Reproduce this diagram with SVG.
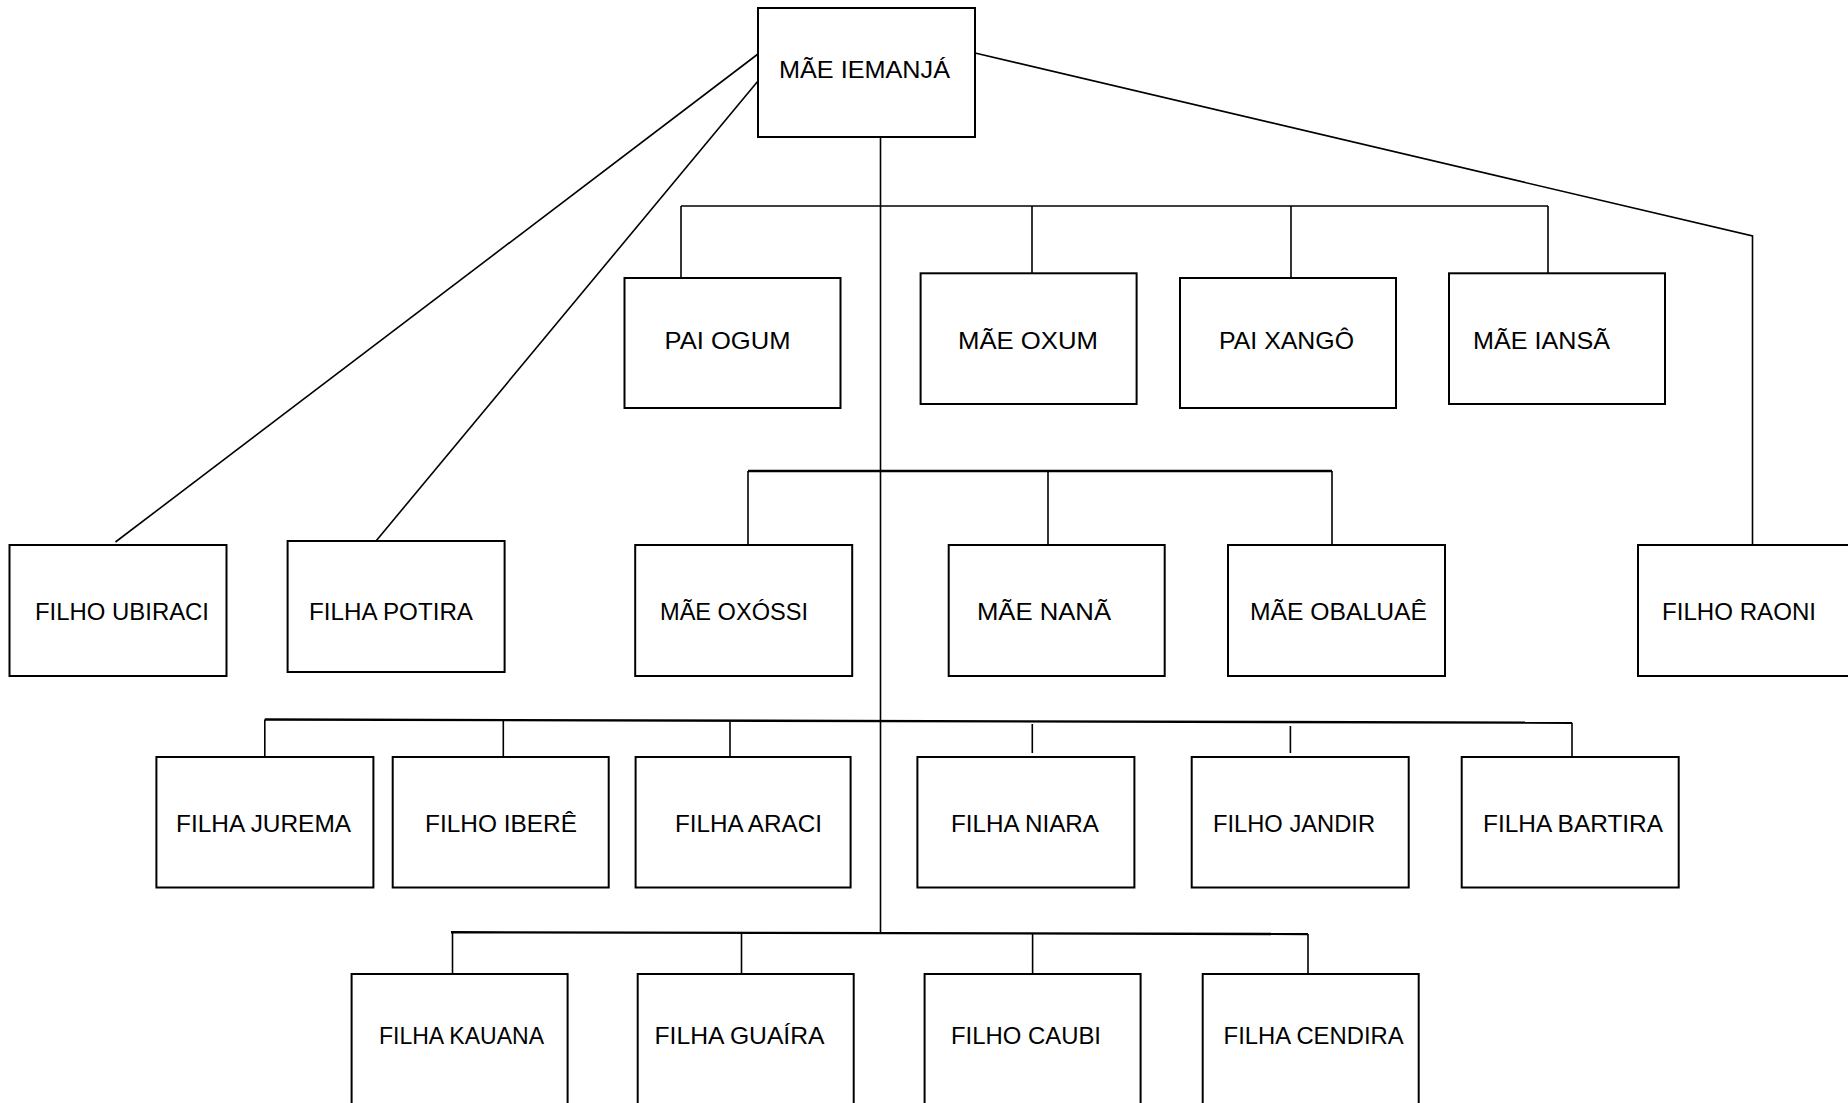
<svg xmlns="http://www.w3.org/2000/svg" width="1848" height="1103" viewBox="0 0 1848 1103">
<style>
.box{fill:#fff;stroke:#000;stroke-width:2}
.lbl{font-family:"Liberation Sans",Arial,sans-serif;font-size:24px;fill:#000}
.ln{fill:none;stroke:#000;stroke-width:1.6}
.bar{fill:none;stroke:#000;stroke-width:2.4}
</style>
<rect width="1848" height="1103" fill="#fff"/>
<g id="connectors">
<line class="ln" x1="758" y1="54" x2="115.5" y2="542"/>
<line class="ln" x1="758" y1="81" x2="376" y2="541"/>
<polyline class="ln" points="975,53 1752.5,236 1752.5,545"/>
<line class="ln" x1="880.5" y1="137" x2="880.5" y2="932"/>
<line class="ln" x1="681" y1="206" x2="1548" y2="206"/>
<line class="ln" x1="681" y1="206" x2="681" y2="278"/>
<line class="ln" x1="1032" y1="206" x2="1032" y2="273"/>
<line class="ln" x1="1291" y1="206" x2="1291" y2="278"/>
<line class="ln" x1="1548" y1="206" x2="1548" y2="273"/>
<line class="bar" x1="748" y1="471" x2="1332" y2="471"/>
<line class="ln" x1="748" y1="471" x2="748" y2="545"/>
<line class="ln" x1="1048" y1="471" x2="1048" y2="545"/>
<line class="ln" x1="1332" y1="471" x2="1332" y2="545"/>
<line class="bar" x1="264.8" y1="719.5" x2="1572" y2="722.7"/>
<line class="ln" x1="264.8" y1="719.5" x2="264.8" y2="760"/>
<line class="ln" x1="503.3" y1="721" x2="503.3" y2="757"/>
<line class="ln" x1="730" y1="721.5" x2="730" y2="757"/>
<line class="ln" x1="1032.3" y1="724" x2="1032.3" y2="753"/>
<line class="ln" x1="1290.4" y1="726" x2="1290.4" y2="753"/>
<line class="ln" x1="1572" y1="722.7" x2="1572" y2="760"/>
<line class="bar" x1="451" y1="932.3" x2="1308" y2="934"/>
<line class="ln" x1="452.5" y1="932.3" x2="452.5" y2="974"/>
<line class="ln" x1="741.5" y1="932.8" x2="741.5" y2="974"/>
<line class="ln" x1="1032.6" y1="933.4" x2="1032.6" y2="974"/>
<line class="ln" x1="1308" y1="934" x2="1308" y2="974"/>
</g>
<g id="n-iemanja"><rect class="box" x="758" y="8" width="217" height="129"/><text class="lbl" x="779" y="78" textLength="171" lengthAdjust="spacingAndGlyphs">MÃE IEMANJÁ</text></g>
<g id="n-ogum"><rect class="box" x="624.5" y="278" width="216" height="130"/><text class="lbl" x="664.5" y="349" textLength="126" lengthAdjust="spacingAndGlyphs">PAI OGUM</text></g>
<g id="n-oxum"><rect class="box" x="920.6" y="273.3" width="216" height="130.7"/><text class="lbl" x="958" y="349" textLength="140" lengthAdjust="spacingAndGlyphs">MÃE OXUM</text></g>
<g id="n-xango"><rect class="box" x="1180" y="278" width="216" height="130"/><text class="lbl" x="1219" y="349" textLength="135" lengthAdjust="spacingAndGlyphs">PAI XANGÔ</text></g>
<g id="n-iansa"><rect class="box" x="1449" y="273.3" width="216" height="130.7"/><text class="lbl" x="1473" y="349" textLength="137" lengthAdjust="spacingAndGlyphs">MÃE IANSÃ</text></g>
<g id="n-ubiraci"><rect class="box" x="9.5" y="545" width="217" height="131"/><text class="lbl" x="35" y="620" textLength="174" lengthAdjust="spacingAndGlyphs">FILHO UBIRACI</text></g>
<g id="n-potira"><rect class="box" x="287.6" y="541" width="217" height="131"/><text class="lbl" x="309" y="620" textLength="164" lengthAdjust="spacingAndGlyphs">FILHA POTIRA</text></g>
<g id="n-oxossi"><rect class="box" x="635.2" y="545" width="217" height="131"/><text class="lbl" x="660" y="620" textLength="148" lengthAdjust="spacingAndGlyphs">MÃE OXÓSSI</text></g>
<g id="n-nana"><rect class="box" x="948.7" y="545" width="216" height="131"/><text class="lbl" x="977" y="620" textLength="134" lengthAdjust="spacingAndGlyphs">MÃE NANÃ</text></g>
<g id="n-obaluae"><rect class="box" x="1228" y="545" width="217" height="131"/><text class="lbl" x="1250" y="620" textLength="177" lengthAdjust="spacingAndGlyphs">MÃE OBALUAÊ</text></g>
<g id="n-raoni"><rect class="box" x="1638" y="545" width="215" height="131"/><text class="lbl" x="1662" y="620" textLength="154" lengthAdjust="spacingAndGlyphs">FILHO RAONI</text></g>
<g id="n-jurema"><rect class="box" x="156.4" y="757" width="217" height="130.5"/><text class="lbl" x="176" y="831.7" textLength="175" lengthAdjust="spacingAndGlyphs">FILHA JUREMA</text></g>
<g id="n-ibere"><rect class="box" x="392.7" y="757" width="216" height="130.5"/><text class="lbl" x="425" y="831.7" textLength="152" lengthAdjust="spacingAndGlyphs">FILHO IBERÊ</text></g>
<g id="n-araci"><rect class="box" x="635.6" y="757" width="215" height="130.5"/><text class="lbl" x="675" y="831.7" textLength="147" lengthAdjust="spacingAndGlyphs">FILHA ARACI</text></g>
<g id="n-niara"><rect class="box" x="917.4" y="757" width="217" height="130.5"/><text class="lbl" x="951" y="831.7" textLength="148" lengthAdjust="spacingAndGlyphs">FILHA NIARA</text></g>
<g id="n-jandir"><rect class="box" x="1191.7" y="757" width="217" height="130.5"/><text class="lbl" x="1213" y="831.7" textLength="162" lengthAdjust="spacingAndGlyphs">FILHO JANDIR</text></g>
<g id="n-bartira"><rect class="box" x="1461.7" y="757" width="217" height="130.5"/><text class="lbl" x="1483" y="831.7" textLength="180" lengthAdjust="spacingAndGlyphs">FILHA BARTIRA</text></g>
<g id="n-kauana"><rect class="box" x="351.6" y="974" width="216" height="140"/><text class="lbl" x="379" y="1044" textLength="165" lengthAdjust="spacingAndGlyphs">FILHA KAUANA</text></g>
<g id="n-guaira"><rect class="box" x="637.7" y="974" width="216" height="140"/><text class="lbl" x="654.5" y="1044" textLength="170" lengthAdjust="spacingAndGlyphs">FILHA GUAÍRA</text></g>
<g id="n-caubi"><rect class="box" x="924.6" y="974" width="216" height="140"/><text class="lbl" x="951" y="1044" textLength="150" lengthAdjust="spacingAndGlyphs">FILHO CAUBI</text></g>
<g id="n-cendira"><rect class="box" x="1202.7" y="974" width="216" height="140"/><text class="lbl" x="1223.6" y="1044" textLength="180" lengthAdjust="spacingAndGlyphs">FILHA CENDIRA</text></g>
</svg>
